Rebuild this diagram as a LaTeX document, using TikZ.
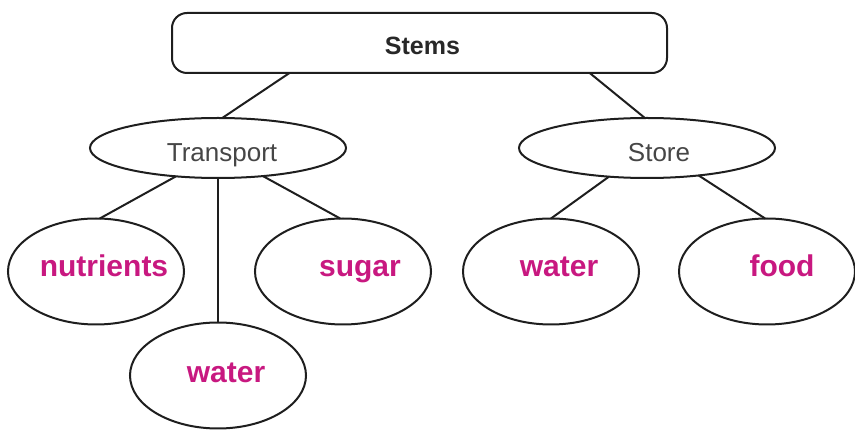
\documentclass[tikz,border=0pt]{standalone}
\usepackage{fontspec}
\setmainfont{Liberation Sans}
\usetikzlibrary{shapes.geometric}
\definecolor{mag}{RGB}{200,24,128}
\definecolor{linec}{RGB}{30,30,30}
\definecolor{subc}{RGB}{70,70,70}
\definecolor{headc}{RGB}{40,40,40}
\begin{document}
\begin{tikzpicture}[x=1pt,y=-1pt,
  ln/.style={draw=linec, line width=2pt},
  box/.style={draw=linec, line width=2pt, rounded corners=15pt, minimum width=495pt, minimum height=60pt, inner sep=0pt, outer sep=0pt},
  oval/.style={ellipse, draw=linec, line width=2pt, inner sep=0pt, outer sep=0pt},
  mid/.style={oval, minimum width=256pt, minimum height=60pt},
  leaf/.style={oval, minimum width=176pt, minimum height=106pt},
  lab/.style={inner sep=0pt, text height=10pt, text depth=0pt, text=mag, font=\fontsize{30}{34}\selectfont\bfseries},
  sub/.style={inner sep=0pt, text height=24pt, text depth=0pt, text=subc, font=\fontsize{26}{30}\selectfont},
  headtxt/.style={inner sep=0pt, text height=24pt, text depth=0pt, text=headc, font=\fontsize{25}{30}\selectfont\bfseries}
]
\useasboundingbox (0,0) rectangle (855,430);
\node[box, label={[headtxt, xshift=3pt]center:Stems}] (stems) at (419.5,43) {};
\node[mid, label={[sub, xshift=4pt, yshift=-1.5pt]center:Transport}] (transport) at (218,148) {};
\node[mid, label={[sub, xshift=12pt, yshift=-1.5pt]center:Store}] (store) at (647,148) {};
\node[leaf, label={[lab, xshift=8pt]center:nutrients}] (nut) at (96,271.5) {};
\node[leaf, label={[lab, xshift=17pt]center:sugar}] (sugar) at (343,271.5) {};
\node[leaf, label={[lab, xshift=8pt, yshift=-2.5pt]center:water}] (water1) at (218,375.5) {};
\node[leaf, label={[lab, xshift=8pt]center:water}] (water2) at (551,271.5) {};
\node[leaf, label={[lab, xshift=15pt]center:food}] (food) at (767,271.5) {};
\draw[ln] (stems.193.8) -- (transport.82);
\draw[ln] (stems.-10.9) -- (store.94);
\draw[ln] (transport.-146.6) -- (nut.86);
\draw[ln] (transport.south) -- (water1.north);
\draw[ln] (transport.-32.1) -- (sugar.93);
\draw[ln] (store.-143.7) -- (water2.north);
\draw[ln] (store.-28.9) -- (food.92);
\end{tikzpicture}
\end{document}
